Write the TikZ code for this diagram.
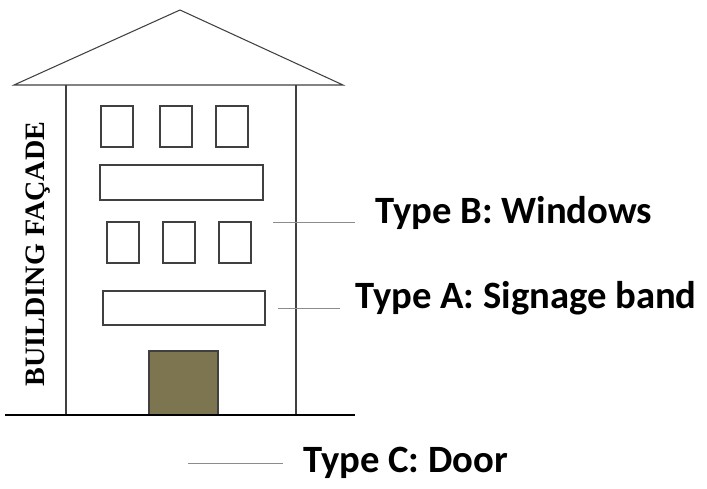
\documentclass[tikz,border=0pt]{standalone}
\usepackage{fontspec}
\newfontfamily\lab{Carlito}
\newfontfamily\ser{Liberation Serif}
\begin{document}
\begin{tikzpicture}[x=0.03cm,y=-0.03cm,
  ln/.style={draw=black!75,line width=0.9pt},
  lead/.style={draw=black!45,line width=0.7pt},
  lbl/.style={font=\lab\bfseries\fontsize{33}{35}\selectfont,anchor=west,inner sep=0pt}]
\useasboundingbox (0,0) rectangle (707,489);
\draw[ln] (14,85) -- (180,10) -- (343,85) -- cycle;
\draw[ln] (66,85) -- (66,415) (296,85) -- (296,415);
\draw[ln] (101,106) rectangle (133,147) (160,106) rectangle (192,147) (216,106) rectangle (248,147);
\draw[ln] (100,165) rectangle (263,200);
\draw[ln] (107,222) rectangle (139,263) (163,222) rectangle (195,263) (219,222) rectangle (251,263);
\draw[ln] (103,291) rectangle (265,325);
\draw[ln,fill={rgb,255:red,125;green,117;blue,80}] (149,351) rectangle (218,415);
\draw[black,line width=2.5pt] (5,415) -- (355,415);
\node[rotate=90,font=\ser\bfseries\fontsize{24}{25}\selectfont,inner sep=0pt] (v) at (38,254) {BUILDING FAÇADE};
\node[lbl] (b) at (375,213) {Type B: Windows};
\node[lbl] (a) at (355,298) {Type A: Signage band};
\node[lbl] (c) at (303,463) {Type C: Door};
\coordinate (b1) at (273,222); \coordinate (a1) at (278,308); \coordinate (c1) at (188,463);
\draw[lead] (b1) -- (355,222);
\draw[lead] (a1) -- (340,308);
\draw[lead] (c1) -- (283,463);
\end{tikzpicture}
\end{document}
